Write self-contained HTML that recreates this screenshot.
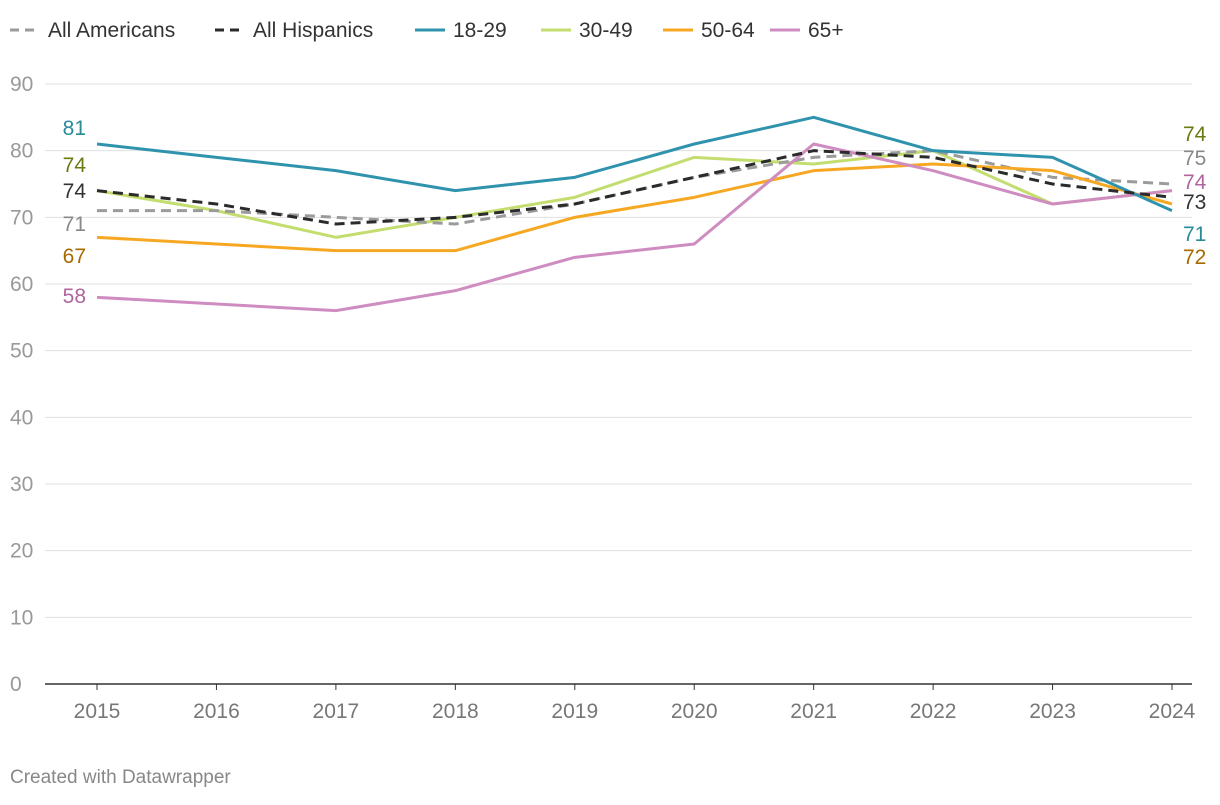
<!DOCTYPE html>
<html><head><meta charset="utf-8"><style>
body{margin:0;background:#fff;font-family:"Liberation Sans",Arial,sans-serif}
svg text{font-family:"Liberation Sans",Arial,sans-serif}
</style></head><body>
<svg id="chart" width="1220" height="800" xmlns="http://www.w3.org/2000/svg">
<g id="legend"></g>
<g id="grid"></g>
<g id="lines"></g>
<g id="labels"></g>
<text x="10" y="783" font-size="19" fill="#888">Created with Datawrapper</text>
</svg>
<script>
const years=[2015,2016,2017,2018,2019,2020,2021,2022,2023,2024];
const yTicks=[0,10,20,30,40,50,60,70,80,90];
const allAmericans=[71,71,70,69,72,76,79,80,76,75];
const allHispanics=[74,72,69,70,72,76,80,79,75,73];
const age1829=[81,79,77,74,76,81,85,80,79,71];
const age3049=[74,71,67,70,73,79,78,80,72,74];
const age5064=[67,66,65,65,70,73,77,78,77,72];
const age65=[58,57,56,59,64,66,81,77,72,74];
const series=[
 {name:"All Americans",v:allAmericans,c:"#9b9b9b",lc:"#888",dash:true,ly:[224,158],z:1},
 {name:"All Hispanics",v:allHispanics,c:"#2b2b2b",lc:"#333",dash:true,ly:[191,202],z:5},
 {name:"18-29",v:age1829,c:"#2f93ad",lc:"#2a8a9a",ly:[128,234],z:4},
 {name:"30-49",v:age3049,c:"#c3dd6f",lc:"#6b7a10",ly:[165,134],z:0},
 {name:"50-64",v:age5064,c:"#f7a823",lc:"#a86a00",ly:[256,257],z:2},
 {name:"65+",v:age65,c:"#cf8cc0",lc:"#b0649e",ly:[296,182],z:3}
];
const NS="http://www.w3.org/2000/svg";
const X=y=>97+(y-2015)*(1172-97)/9;
const Y=v=>684-v*600/90;
function mk(tag,attrs,parent,text){const e=document.createElementNS(NS,tag);for(const k in attrs)e.setAttribute(k,attrs[k]);if(text!==undefined)e.textContent=text;parent.appendChild(e);return e;}
const grid=document.getElementById('grid');
yTicks.forEach(t=>{
 if(t>0){const l=mk('line',{x1:45,x2:1192,y1:Y(t),y2:Y(t),stroke:"#e0e0e0","stroke-width":1},grid);
 
 }
 const tx=mk('text',{x:10,y:Y(t)+7,"font-size":21,fill:"#999"},grid,String(t));
 
 
});
const ax=mk('line',{x1:45,x2:1192,y1:684,y2:684,stroke:"#333","stroke-width":1.5},grid);


years.forEach(y=>{
 const tk=mk('line',{x1:X(y),x2:X(y),y1:684,y2:690,stroke:"#333"},grid);
 
 
 const t=mk('text',{x:X(y),y:718,"font-size":21,fill:"#777","text-anchor":"middle"},grid,String(y));
 
 
});
const lines=document.getElementById('lines'),labels=document.getElementById('labels'),legend=document.getElementById('legend');
const lx=[10,215,415,541,663,770];
[...series].sort((a,b)=>a.z-b.z).forEach(s=>{
 const p=mk('polyline',{points:s.v.map((v,j)=>X(years[j])+","+Y(v)).join(" "),fill:"none",stroke:s.c,"stroke-width":3,"stroke-linejoin":"round","stroke-dasharray":s.dash?"10,6":"none"},lines);
 
 
});
series.forEach((s,i)=>{
 const a=mk('text',{x:86,y:s.ly[0]+7,"font-size":21,fill:s.lc,"text-anchor":"end"},labels,String(s.v[0]));
 
 
 const b=mk('text',{x:1183,y:s.ly[1]+7,"font-size":21,fill:s.lc},labels,String(s.v[9]));
 
 
 const g=mk('g',{},legend);
 
 
 mk('line',{x1:lx[i],x2:lx[i]+30,y1:30,y2:30,stroke:s.c,"stroke-width":3,"stroke-dasharray":s.dash?"9,6":"none"},g);
 mk('text',{x:lx[i]+38,y:37,"font-size":21,fill:"#333"},g,s.name);
});
</script>
</body></html>
